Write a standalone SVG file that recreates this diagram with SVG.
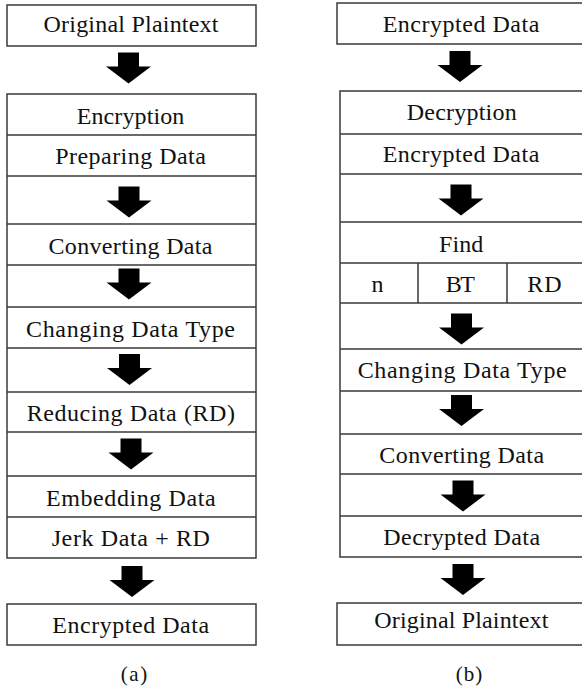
<svg xmlns="http://www.w3.org/2000/svg" xmlns:xlink="http://www.w3.org/1999/xlink" width="582" height="691" viewBox="0 0 582 691">
<style>
.box{fill:#fff;stroke:#3a3a3a;stroke-width:1.5}
.ln{stroke:#3a3a3a;stroke-width:1.5;fill:none}
.t{font-family:"Liberation Serif","Times New Roman",serif;font-size:24px;fill:#111;text-anchor:middle}
.cap{font-family:"Liberation Serif","Times New Roman",serif;font-size:21px;fill:#111;text-anchor:middle}
.arr{fill:#000}
</style>
<defs>
<path id="arr" d="M-10.5,0 H10.5 V14 H22.5 L0,31 L-22.5,14 H-10.5 Z"/>
</defs>
<rect width="582" height="691" fill="#fff"/>

<!-- Left column (a) -->
<g id="a-original-plaintext">
<rect class="box" x="7" y="5" width="249" height="41"/>
<text class="t" x="131" y="31.5" textLength="175" lengthAdjust="spacing">Original Plaintext</text>
</g>
<g id="a-encryption-block">
<rect class="box" x="7" y="94" width="249" height="464"/>
<path class="ln" d="M7,135H256M7,176H256M7,224H256M7,265H256M7,307H256M7,348H256M7,392H256M7,432H256M7,476H256M7,517H256"/>
</g>
<g id="a-encryption"><text class="t" x="130.5" y="124" textLength="107.7" lengthAdjust="spacing">Encryption</text></g>
<g id="a-preparing"><text class="t" x="130.5" y="164.3" textLength="150.7" lengthAdjust="spacing">Preparing Data</text></g>
<g id="a-converting"><text class="t" x="130.5" y="254" textLength="164" lengthAdjust="spacing">Converting Data</text></g>
<g id="a-changing"><text class="t" x="130.5" y="337.3" textLength="209" lengthAdjust="spacing">Changing Data Type</text></g>
<g id="a-reducing"><text class="t" x="130.8" y="421" textLength="208.3" lengthAdjust="spacing">Reducing Data (RD)</text></g>
<g id="a-embedding"><text class="t" x="130.8" y="505.7" textLength="169.7" lengthAdjust="spacing">Embedding Data</text></g>
<g id="a-jerk"><text class="t" x="130.8" y="546" textLength="158.3" lengthAdjust="spacing">Jerk Data + RD</text></g>
<g id="a-encrypted-data">
<rect class="box" x="7" y="604" width="249" height="41"/>
<text class="t" x="130.7" y="633.3" textLength="156.7" lengthAdjust="spacing">Encrypted Data</text>
</g>
<text class="cap" x="134" y="681" textLength="26.7" lengthAdjust="spacing">(a)</text>

<!-- Right column (b) -->
<g id="b-encrypted-data">
<rect class="box" x="337" y="3" width="250" height="41"/>
<text class="t" x="461" y="31.7" textLength="156.7" lengthAdjust="spacing">Encrypted Data</text>
</g>
<g id="b-decryption-block">
<rect class="box" x="340" y="91" width="247" height="466"/>
<path class="ln" d="M340,134H587M340,174H587M340,222H587M340,263H587M340,303H587M340,349H587M340,391H587M340,434H587M340,474H587M340,516H587M418,263V303M507,263V303"/>
</g>
<g id="b-decryption"><text class="t" x="461.7" y="120" textLength="110" lengthAdjust="spacing">Decryption</text></g>
<g id="b-encrypted-in"><text class="t" x="461" y="161.7" textLength="156.7" lengthAdjust="spacing">Encrypted Data</text></g>
<g id="b-find"><text class="t" x="461.2" y="251.7" textLength="44.3" lengthAdjust="spacing">Find</text></g>
<g id="b-n"><text class="t" x="377.5" y="291.7">n</text></g>
<g id="b-bt"><text class="t" x="460.3" y="291.7" textLength="29.3" lengthAdjust="spacing">BT</text></g>
<g id="b-rd"><text class="t" x="544.5" y="291.7" textLength="34.3" lengthAdjust="spacing">RD</text></g>
<g id="b-changing"><text class="t" x="462.2" y="378.3" textLength="209" lengthAdjust="spacing">Changing Data Type</text></g>
<g id="b-converting"><text class="t" x="461.7" y="463.3" textLength="164.7" lengthAdjust="spacing">Converting Data</text></g>
<g id="b-decrypted"><text class="t" x="461.7" y="545" textLength="156.7" lengthAdjust="spacing">Decrypted Data</text></g>
<g id="b-original-plaintext">
<rect class="box" x="337" y="603" width="250" height="42"/>
<text class="t" x="461.3" y="628.3" textLength="174" lengthAdjust="spacing">Original Plaintext</text>
</g>
<text class="cap" x="469" y="681" textLength="26.7" lengthAdjust="spacing">(b)</text>

<!-- Connectors (block arrows) -->
<g id="connectors" class="arr">
<use xlink:href="#arr" x="128.5" y="52.5"/>
<use xlink:href="#arr" x="129" y="186.5"/>
<use xlink:href="#arr" x="129" y="268.5"/>
<use xlink:href="#arr" x="129.5" y="354"/>
<use xlink:href="#arr" x="131" y="438.5"/>
<use xlink:href="#arr" x="132" y="566"/>
<use xlink:href="#arr" x="460" y="51"/>
<use xlink:href="#arr" x="461" y="184.5"/>
<use xlink:href="#arr" x="461.5" y="313.5"/>
<use xlink:href="#arr" x="461.5" y="395"/>
<use xlink:href="#arr" x="463" y="480.5"/>
<use xlink:href="#arr" x="463" y="564"/>
</g>
</svg>
